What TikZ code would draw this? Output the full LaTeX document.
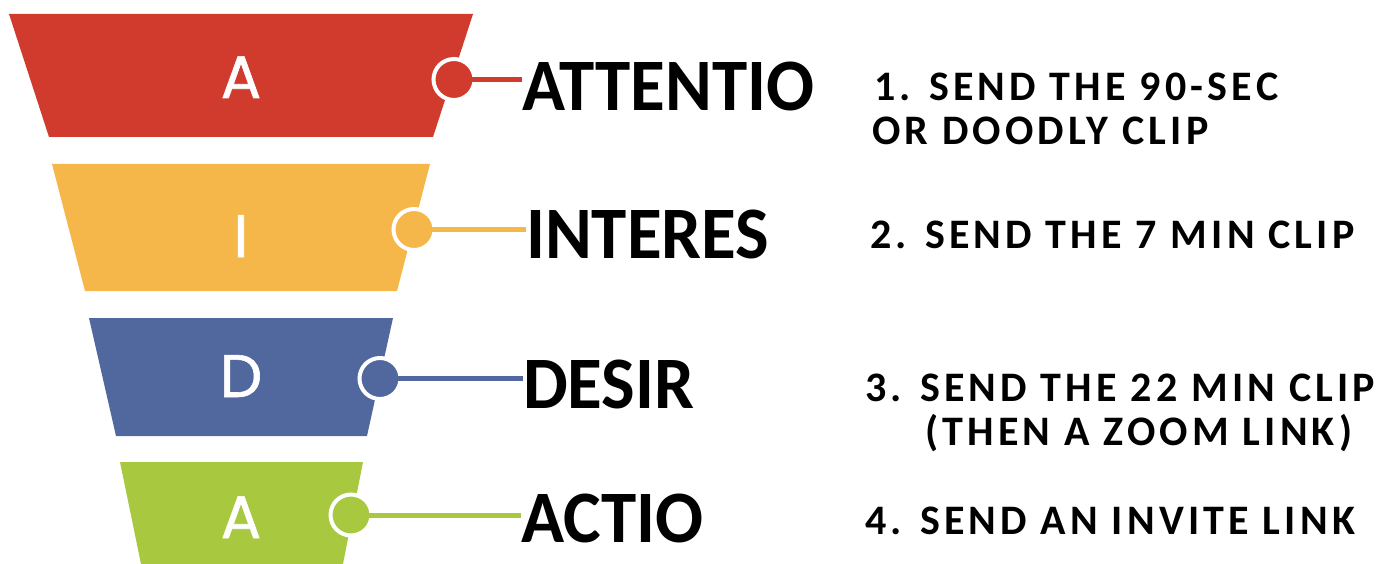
\documentclass[tikz,border=0pt]{standalone}
\usepackage{fontspec}
\usepackage{tikz}
\setmainfont{Carlito}
\newfontfamily\letterfont[FakeBold=1]{Poppins}
\newfontfamily\wordfont[FakeStretch=0.96]{Carlito}
\newfontfamily\stepfont[LetterSpace=10]{Carlito}
\usetikzlibrary{positioning}
\definecolor{mred}{HTML}{D13B2E}
\definecolor{myellow}{HTML}{F5B64A}
\definecolor{mblue}{HTML}{51689F}
\definecolor{mgreen}{HTML}{A7C83F}

\tikzset{
  letter/.style={anchor=base, inner sep=0pt, text=white, font=\letterfont\fontsize{60}{66}\selectfont},
  dot/.style={circle, draw=white, line width=4pt, minimum size=41pt, inner sep=0pt},
  word/.style={anchor=base west, inner sep=0pt, font=\wordfont\bfseries\fontsize{74}{80}\selectfont},
  steptext/.style={anchor=base west, inner sep=0pt, font=\stepfont\bfseries\fontsize{42}{46}\selectfont}
}

\begin{document}
\begin{tikzpicture}[x=1pt, y=-1pt]
    \useasboundingbox (0, 0) rectangle (1388, 564);

    \fill [mred] (9, 14) -- (473, 14) -- (433, 137) -- (49, 137) -- cycle;
    \fill [myellow] (52, 164) -- (430, 164) -- (397, 291) -- (85, 291) -- cycle;
    \fill [mblue] (89, 318) -- (393, 318) -- (367, 436) -- (116, 436) -- cycle;
    \fill [mgreen] (120, 462) -- (363, 462) -- (343, 564) -- (141, 564) -- cycle;

    \node [letter] (la) at (241, 98) {A};
    \node [letter] (li) at (241, 257) {I};
    \node [letter] (ld) at (241, 397) {D};
    \node [letter] (lb) at (241, 538) {A};

    \node [word] (attention) at (522, 111) {ATTENTIO};
    \node [word] (interest) at (526, 258) {INTERES};
    \node [word] (desire) at (523, 408) {DESIR};
    \node [word] (action) at (521, 542) {ACTIO};

    \node [dot, fill=mred] (da) at (454, 79.5) {};
    \node [dot, fill=myellow] (di) at (414, 229.5) {};
    \node [dot, fill=mblue] (dd) at (380, 378.5) {};
    \node [dot, fill=mgreen] (db) at (351, 515) {};

    \draw [mred, line width=5pt] (da.center) -- (da -| attention.west);
    \draw [myellow, line width=5pt] (di.center) -- (di -| interest.west);
    \draw [mblue, line width=5pt] (dd.center) -- (dd -| desire.west);
    \draw [mgreen, line width=5pt] (db.center) -- (db -| action.west);

    \node [steptext] (s1) at (874, 101) {1. SEND THE 90-SEC};
    \node [steptext] (s1b) at (872, 145) {OR DOODLY CLIP};
    \node [steptext] (s2) at (870, 248) {2. SEND THE 7 MIN CLIP};
    \node [steptext] (s3) at (865, 401) {3. SEND THE 22 MIN CLIP};
    \node [steptext] (s3b) at (925, 445) {(THEN A ZOOM LINK)};
    \node [steptext] (s4) at (865, 534) {4. SEND AN INVITE LINK};
  \end{tikzpicture}
\end{document}
